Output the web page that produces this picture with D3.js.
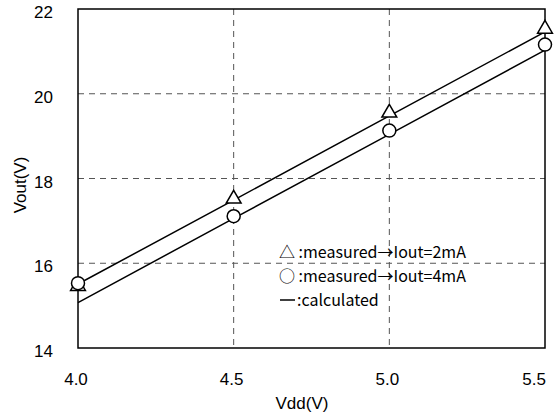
<html>
<head>
<title>Vout vs Vdd</title>
<script src="https://d3js.org/d3.v7.min.js"></script>
<style>
  body { margin: 0; background: #fff; }
  text { fill: #000; }
</style>
</head>
<body>
<script>
// data
var vdd = [4.0, 4.5, 5.0, 5.5];
var meas2mA = [15.46, 17.52, 19.55, 21.53];
var meas4mA = [15.53, 17.11, 19.13, 21.16];
var calc2mA = [15.51, 17.49, 19.48, 21.46];
var calc4mA = [15.07, 17.06, 19.04, 21.03];
var xTicks = [4.0, 4.5, 5.0, 5.5];
var yTicks = [14, 16, 18, 20, 22];
var legendLabels = ["\u25B3 :measured\u2192Iout=2mA", "\u25CB :measured\u2192Iout=4mA", ":calculated"];

var width = 555, height = 416;
var mLeft = 78, mRight = 545, mTop = 9, mBottom = 348;
var font = "'Liberation Sans', Arial, sans-serif";

var svg = d3.select("body").append("svg")
  .attr("width", width)
  .attr("height", height);

var x = d3.scaleLinear().domain([4.0, 5.5]).range([mLeft, mRight]);
var y = d3.scaleLinear().domain([14, 22]).range([mBottom, mTop]);

// dashed grid
svg.selectAll(".vgrid").data(xTicks.slice(1, -1)).enter().append("line")
  .attr("x1", d => x(d)).attr("x2", d => x(d))
  .attr("y1", mTop).attr("y2", mBottom)
  .attr("stroke", "#555").attr("stroke-width", 1).attr("stroke-dasharray", "6,5");
svg.selectAll(".hgrid").data(yTicks.slice(1, -1)).enter().append("line")
  .attr("x1", mLeft).attr("x2", mRight)
  .attr("y1", d => y(d)).attr("y2", d => y(d))
  .attr("stroke", "#555").attr("stroke-width", 1).attr("stroke-dasharray", "6,5");

// frame
svg.append("rect")
  .attr("x", mLeft).attr("y", mTop)
  .attr("width", mRight - mLeft).attr("height", mBottom - mTop)
  .attr("fill", "none").attr("stroke", "#000").attr("stroke-width", 1.5);

// tick labels
svg.selectAll(".ylab").data(yTicks).enter().append("text")
  .attr("x", 53).attr("y", d => y(d) + 9)
  .attr("text-anchor", "end").attr("font-size", 17).attr("font-family", font)
  .text(d => d);
svg.selectAll(".xlab").data(xTicks).enter().append("text")
  .attr("x", (d, i) => i == xTicks.length - 1 ? x(d) + 1 : x(d) - 2).attr("y", 385)
  .attr("text-anchor", (d, i) => i == xTicks.length - 1 ? "end" : "middle")
  .attr("font-size", 17).attr("font-family", font)
  .text(d => d.toFixed(1));

svg.append("text").attr("x", 302).attr("y", 409)
  .attr("text-anchor", "middle").attr("font-size", 17).attr("font-family", font)
  .text("Vdd(V)");
svg.append("text").attr("transform", "translate(26,185) rotate(-90)")
  .attr("text-anchor", "middle").attr("font-size", 17).attr("font-family", font)
  .text("Vout(V)");

// calculated lines
var line = d3.line().x((d, i) => x(vdd[i])).y(d => y(d));
[calc2mA, calc4mA].forEach(function (s) {
  svg.append("path").attr("d", line(s))
    .attr("fill", "none").attr("stroke", "#000").attr("stroke-width", 1.5);
});

// measured markers
var tri = d3.symbol().type(d3.symbolTriangle).size(95);
svg.selectAll(".tri").data(meas2mA).enter().append("path")
  .attr("d", tri)
  .attr("transform", (d, i) => "translate(" + x(vdd[i]) + "," + y(d) + ")")
  .attr("fill", "#fff").attr("stroke", "#000").attr("stroke-width", 1.5);
svg.selectAll(".circ").data(meas4mA).enter().append("circle")
  .attr("cx", (d, i) => x(vdd[i])).attr("cy", d => y(d)).attr("r", 6.5)
  .attr("fill", "#fff").attr("stroke", "#000").attr("stroke-width", 1.5);

// legend
svg.selectAll(".leg").data(legendLabels).enter().append("text")
  .attr("x", (d, i) => i == 2 ? 297 : 279).attr("y", (d, i) => 258 + i * 24)
  .attr("font-size", 16)
  .attr("font-family", "'Noto Sans CJK JP', sans-serif")
  .text(d => d);
svg.append("line")
  .attr("x1", 280).attr("x2", 295).attr("y1", 300).attr("y2", 300)
  .attr("stroke", "#000").attr("stroke-width", 1.5);
</script>
</body>
</html>
